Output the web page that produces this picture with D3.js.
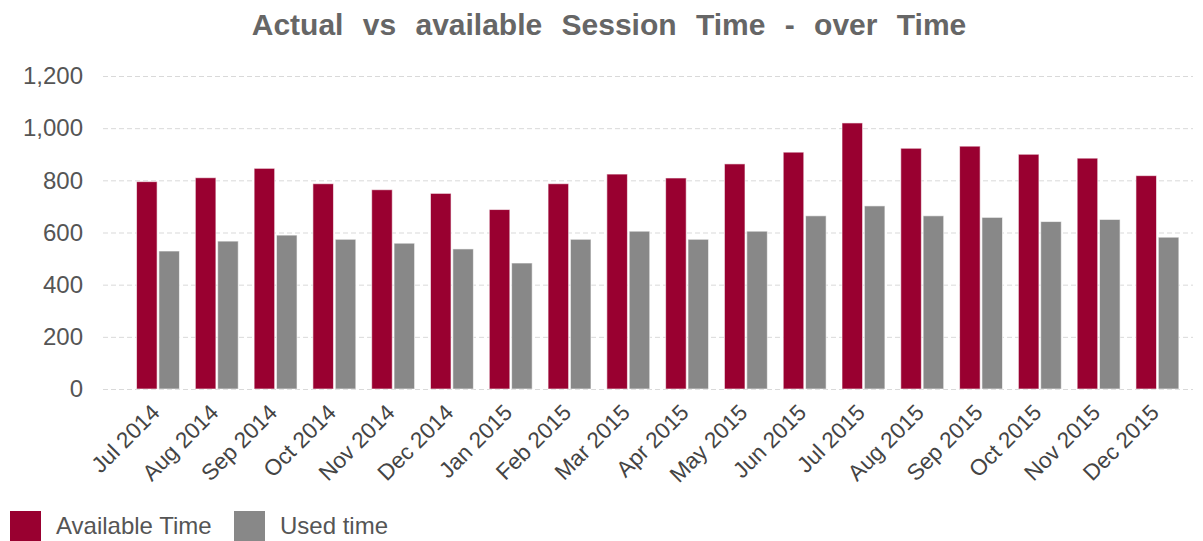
<!DOCTYPE html>
<html>
<head>
<meta charset="utf-8">
<script src="https://cdn.jsdelivr.net/npm/d3@7"></script>
<style>
  body{margin:0;background:#fff;}
  svg{display:block;font-family:"Liberation Sans",Arial,sans-serif;}
</style>
</head>
<body>
<div id="chart"></div>
<script>
const months = ["Jul 2014","Aug 2014","Sep 2014","Oct 2014","Nov 2014","Dec 2014",
  "Jan 2015","Feb 2015","Mar 2015","Apr 2015","May 2015","Jun 2015",
  "Jul 2015","Aug 2015","Sep 2015","Oct 2015","Nov 2015","Dec 2015"];
const availableTime = [795,810,846,787,764,750,688,787,824,809,863,908,1020,923,931,900,885,818];
const usedTime = [529,567,590,574,559,537,483,574,605,574,605,664,702,664,658,642,650,582];
const yTicks = [0,200,400,600,800,1000,1200];
const seriesNames = ["Available Time","Used time"];
const seriesColors = ["#990030","#888888"];

const W=1203,H=541;
const svg=d3.select('#chart').append('svg').attr('width',W).attr('height',H);

const y=d3.scaleLinear().domain([0,1200]).range([389,76]);
const x0=d3.scaleBand().domain(months).range([128.6,1186.8]).paddingInner(0.27).paddingOuter(0.135);
const x1=d3.scaleBand().domain(seriesNames).range([0,x0.bandwidth()]).paddingInner(0.08);
const color=d3.scaleOrdinal().domain(seriesNames).range(seriesColors);

// title
svg.append('text').attr('x',609).attr('y',35).attr('text-anchor','middle')
  .style('font-size','30px').style('font-weight','bold').style('fill','#666')
  .style('word-spacing','11px')
  .text('Actual vs available Session Time - over Time');

// grid + y labels
const yAxis=svg.append('g').attr('transform','translate(103,0)')
  .call(d3.axisLeft(y).tickValues(yTicks).tickSize(-1090).tickPadding(20).tickFormat(d3.format(',')));
yAxis.select('.domain').remove();
yAxis.selectAll('.tick line').attr('stroke','#d9d9d9').attr('stroke-dasharray','5,3');
yAxis.selectAll('.tick text').style('font-size','24px').style('fill','#555');

// bars
const rows=months.map((m,i)=>({month:m,values:[
  {key:seriesNames[0],value:availableTime[i]},
  {key:seriesNames[1],value:usedTime[i]}]}));

const groups=svg.selectAll('g.grp').data(rows).enter().append('g').attr('class','grp')
  .attr('transform',d=>`translate(${x0(d.month)},0)`);
groups.selectAll('rect').data(d=>d.values).enter().append('rect')
  .attr('x',d=>x1(d.key)).attr('width',x1.bandwidth())
  .attr('y',d=>y(d.value)).attr('height',d=>y(0)-y(d.value))
  .attr('fill',d=>color(d.key)).attr('stroke','rgba(255,255,255,0.6)').attr('stroke-width',1);

// x labels
const xAxis=svg.append('g').attr('transform','translate(0,389)')
  .call(d3.axisBottom(x0).tickSize(0).tickPadding(0));
xAxis.select('.domain').remove();
xAxis.selectAll('.tick text')
  .attr('text-anchor','end').attr('dy','0').attr('y',0)
  .attr('transform','translate(3,25) rotate(-45)')
  .style('font-size','22.5px').style('fill','#444');

// legend
const legend=svg.append('g').attr('transform','translate(10,511)');
const lx=[0,224];
seriesNames.forEach((s,i)=>{
  const g=legend.append('g').attr('transform',`translate(${lx[i]},0)`);
  g.append('rect').attr('width',31).attr('height',31).attr('fill',color(s));
  g.append('text').attr('x',46).attr('y',23).style('font-size','24px').style('fill','#555').text(s);
});
</script>
</body>
</html>
